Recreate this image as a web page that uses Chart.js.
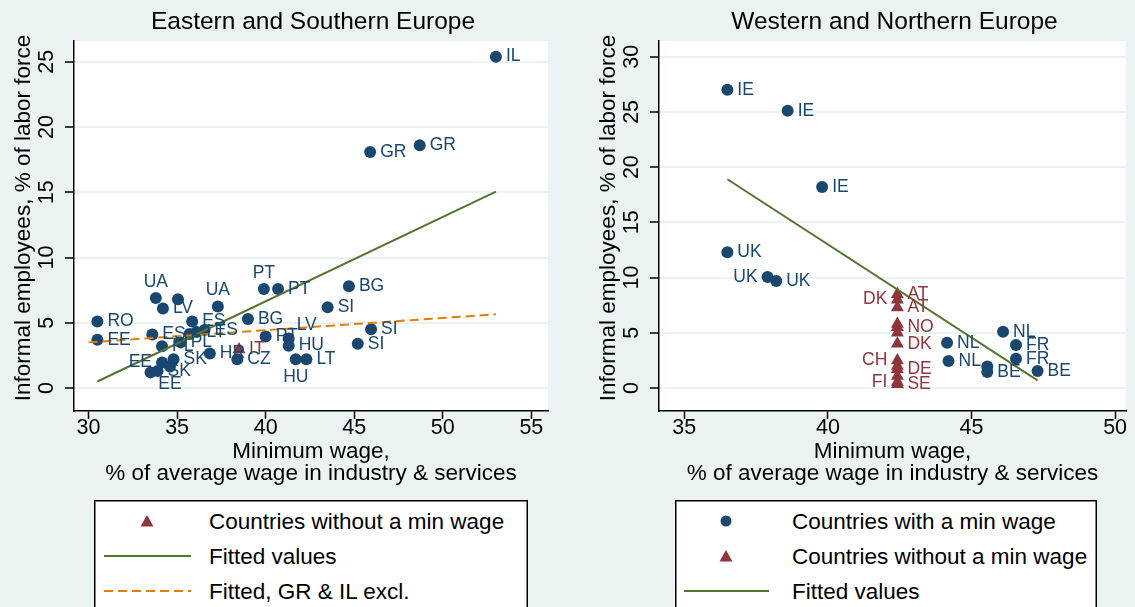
<!DOCTYPE html>
<html>
<head>
<meta charset="utf-8">
<script src="https://cdn.jsdelivr.net/npm/chart.js@4.4.0/dist/chart.umd.min.js"></script>
<style>
  body { margin: 0; background: #eaf2f3; }
  #wrap { position: relative; width: 1135px; height: 607px; overflow: hidden; background: #eaf2f3; }
  #wrap canvas { position: absolute; top: 0; }
  #eastChart { left: 0; }
  #westChart { left: 567px; }
  .legend { position: absolute; top: 500px; }
</style>
</head>
<body>
<div id="wrap">
  <canvas id="eastChart" width="567" height="500"></canvas>
  <canvas id="westChart" width="568" height="500"></canvas>
  <svg class="legend" id="eastLegend" style="left:94px" width="434" height="110"></svg>
  <svg class="legend" id="westLegend" style="left:675px" width="422" height="110"></svg>
</div>
<script>
// --- Data: Eastern and Southern Europe ---
const eastMinX = [53.0, 48.7, 45.9, 44.7, 39.9, 40.7, 43.5, 45.95, 45.2, 39.0, 40.0, 41.3, 41.3, 41.7, 42.3,
                  30.5, 30.5, 33.8, 35.05, 34.2, 37.3, 35.85, 33.6, 35.7, 36.1, 36.55, 35.2, 34.15, 36.85, 38.4,
                  34.15, 34.8, 33.5, 33.9, 34.6];
const eastMinY = [25.4, 18.6, 18.1, 7.8, 7.6, 7.6, 6.2, 4.5, 3.4, 5.3, 3.95, 3.8, 3.25, 2.2, 2.2,
                  5.1, 3.7, 6.9, 6.8, 6.1, 6.25, 5.1, 4.1, 4.15, 4.3, 4.45, 3.5, 3.2, 2.65, 2.2,
                  1.95, 2.2, 1.2, 1.3, 1.65];
const eastMinLabel = ['IL', 'GR', 'GR', 'BG', 'PT', 'PT', 'SI', 'SI', 'SI', 'BG', 'PT', 'LV', 'HU', 'HU', 'LT',
                      'RO', 'EE', 'UA', '', 'LV', 'UA', 'ES', 'ES', '', 'LT', 'ES', 'PL', 'PL', 'HR', 'CZ',
                      'EE', 'SK', '', 'SK', 'EE'];
// clock position of each marker label (Stata mlabvpos)
const eastMinPos = [3, 3, 3, 3, 12, 3, 3, 3, 3, 3, 3, 1, 3, 6, 3,
                    3, 3, 12, 3, 3, 12, 3, 3, 3, 3, 3, 3, 3, 3, 3,
                    9, 3, 3, 3, 6];
const eastNoMinX = [38.5];
const eastNoMinY = [2.95];
const eastNoMinLabel = ['IT'];
const eastNoMinPos = [3];
const eastFitX = [30.5, 53.0];
const eastFitY = [0.5, 15.05];
const eastFitExclX = [30.0, 53.0];
const eastFitExclY = [3.5, 5.65];
const eastXTicks = [30, 35, 40, 45, 50, 55];
const eastYTicks = [0, 5, 10, 15, 20, 25];

// --- Data: Western and Northern Europe ---
const westMinX = [36.5, 38.6, 39.8, 36.5, 37.9, 38.2, 46.1, 44.15, 44.2, 45.55, 45.55, 46.55, 46.55, 47.3];
const westMinY = [27.0, 25.1, 18.2, 12.3, 10.05, 9.7, 5.1, 4.1, 2.45, 1.95, 1.45, 3.9, 2.65, 1.55];
const westMinLabel = ['IE', 'IE', 'IE', 'UK', 'UK', 'UK', 'NL', 'NL', 'NL', '', 'BE', 'FR', 'FR', 'BE'];
const westMinPos = [3, 3, 3, 3, 9, 3, 3, 3, 3, 3, 3, 3, 3, 3];
const westNoMinX = [42.42, 42.42, 42.42, 42.42, 42.42, 42.42, 42.42, 42.42, 42.42, 42.42, 42.42, 42.42, 42.42];
const westNoMinY = [8.5, 8.0, 7.3, 5.8, 5.5, 5.0, 4.0, 2.5, 2.0, 1.7, 1.1, 0.55, 0.35];
const westNoMinLabel = ['AT', 'DK', 'AT', '', 'NO', '', 'DK', 'CH', '', 'DE', '', 'FI', 'SE'];
const westNoMinPos = [3, 9, 3, 3, 3, 3, 3, 9, 3, 3, 3, 9, 3];
const westFitX = [36.5, 47.3];
const westFitY = [18.9, 0.7];
const westXTicks = [35, 40, 45, 50];
const westYTicks = [0, 5, 10, 15, 20, 25, 30];

const xTitle = ['Minimum wage,', '% of average wage in industry & services'];
const yTitle = 'Informal employees, % of labor force';

// --- Styles ---
const FONT = '"Liberation Sans", Arial, sans-serif';
const BLUE = '#1a476f';
const RED = '#90353b';
const GREEN = '#55752f';
const ORANGE = '#e37e00';
const PANEL = '#eaf2f3';

const toPoints = (xs, ys) => xs.map((x, i) => ({ x: x, y: ys[i] }));

// white plot region, titles, rotated y tick labels
const stataDecor = {
    id: 'stataDecor',
    beforeDraw(chart) {
        const { ctx, chartArea: a } = chart;
        ctx.save();
        ctx.fillStyle = '#ffffff';
        ctx.fillRect(a.left, a.top, a.right - a.left, a.bottom - a.top);
        ctx.restore();
    },
    afterDraw(chart, args, opts) {
        const { ctx, chartArea: a, scales } = chart;
        const cx = (a.left + a.right) / 2;
        ctx.save();
        ctx.fillStyle = '#000';
        ctx.textAlign = 'center';
        ctx.textBaseline = 'middle';
        ctx.font = '24.5px ' + FONT;
        ctx.fillText(opts.title, cx + 2, 22);
        ctx.font = '22.5px ' + FONT;
        xTitle.forEach((t, i) => ctx.fillText(t, cx, 452 + i * 22));
        ctx.save();
        ctx.translate(a.left - 50, 218);
        ctx.rotate(-Math.PI / 2);
        ctx.fillText(yTitle, 0, 0);
        ctx.restore();
        ctx.font = '21.5px ' + FONT;
        scales.y.ticks.forEach(t => {
            const py = scales.y.getPixelForValue(t.value);
            ctx.save();
            ctx.translate(a.left - 27, py);
            ctx.rotate(-Math.PI / 2);
            ctx.fillText(String(t.value), 0, 0);
            ctx.restore();
        });
        ctx.restore();
    }
};

// marker labels at clock positions
const markerLabels = {
    id: 'markerLabels',
    afterDatasetsDraw(chart) {
        const ctx = chart.ctx;
        ctx.save();
        ctx.font = '17.5px ' + FONT;
        ctx.textBaseline = 'middle';
        chart.data.datasets.forEach((ds, di) => {
            if (!ds.mlabels) return;
            const meta = chart.getDatasetMeta(di);
            ctx.fillStyle = ds.backgroundColor;
            meta.data.forEach((el, i) => {
                const txt = ds.mlabels[i];
                if (!txt) return;
                const pos = ds.mlabpos[i];
                let x = el.x, y = el.y;
                if (pos === 3) { ctx.textAlign = 'left'; x += 10; }
                else if (pos === 9) { ctx.textAlign = 'right'; x -= 10; }
                else if (pos === 12) { ctx.textAlign = 'center'; y -= 16; }
                else if (pos === 6) { ctx.textAlign = 'center'; y += 18; }
                else if (pos === 1) { ctx.textAlign = 'left'; x += 8; y -= 13; }
                ctx.fillText(txt, x, y);
            });
        });
        ctx.restore();
    }
};

function makePanel(canvasId, cfg) {
    const datasets = [];
    cfg.lines.forEach(l => datasets.push({
        type: 'line', data: toPoints(l.x, l.y), borderColor: l.color, borderWidth: 2,
        borderDash: l.dash || [], pointRadius: 0, fill: false, order: 0
    }));
    cfg.markers.forEach(m => datasets.push({
        type: 'scatter', data: toPoints(m.x, m.y), backgroundColor: m.color, borderWidth: 0,
        pointStyle: m.style, pointRadius: m.radius, mlabels: m.labels, mlabpos: m.pos, order: 1
    }));
    return new Chart(document.getElementById(canvasId), {
        type: 'scatter',
        data: { datasets: datasets },
        options: {
            responsive: false,
            animation: false,
            devicePixelRatio: 1,
            layout: { padding: { left: 0, right: cfg.padRight, top: 41, bottom: 0 } },
            plugins: {
                legend: { display: false },
                tooltip: { enabled: false },
                stataDecor: { title: cfg.title }
            },
            scales: {
                x: {
                    type: 'linear', position: 'bottom', min: cfg.xMin, max: cfg.xMax,
                    afterBuildTicks: s => { s.ticks = cfg.xTicks.map(v => ({ value: v })); },
                    afterFit: s => { s.height = 89; },
                    ticks: { font: { size: 21.5, family: FONT }, color: '#000', padding: -4, maxRotation: 0, autoSkip: false },
                    grid: { display: true, drawOnChartArea: false, tickColor: '#000', tickLength: 8, tickWidth: 1.5 },
                    border: { color: '#000', width: 1.5 }
                },
                y: {
                    type: 'linear', position: 'left', min: cfg.yMin, max: cfg.yMax,
                    afterBuildTicks: s => { s.ticks = cfg.yTicks.map(v => ({ value: v })); },
                    afterFit: s => { s.width = cfg.yWidth; },
                    ticks: { display: false },
                    grid: { color: PANEL, lineWidth: 2, tickColor: '#000', tickLength: 9, tickWidth: 1.5 },
                    border: { color: '#000', width: 1.5 }
                }
            }
        },
        plugins: [stataDecor, markerLabels]
    });
}

makePanel('eastChart', {
    title: 'Eastern and Southern Europe',
    xMin: 29.18, xMax: 55.94, yMin: -1.76, yMax: 26.6,
    xTicks: eastXTicks, yTicks: eastYTicks, yWidth: 74, padRight: 19,
    lines: [
        { x: eastFitX, y: eastFitY, color: GREEN },
        { x: eastFitExclX, y: eastFitExclY, color: ORANGE, dash: [9, 5] }
    ],
    markers: [
        { x: eastNoMinX, y: eastNoMinY, labels: eastNoMinLabel, pos: eastNoMinPos, color: RED, style: 'triangle', radius: 7.5 },
        { x: eastMinX, y: eastMinY, labels: eastMinLabel, pos: eastMinPos, color: BLUE, style: 'circle', radius: 6 }
    ]
});

makePanel('westChart', {
    title: 'Western and Northern Europe',
    xMin: 34.12, xMax: 50.38, yMin: -2.08, yMax: 31.42,
    xTicks: westXTicks, yTicks: westYTicks, yWidth: 92, padRight: 9,
    lines: [
        { x: westFitX, y: westFitY, color: GREEN }
    ],
    markers: [
        { x: westNoMinX, y: westNoMinY, labels: westNoMinLabel, pos: westNoMinPos, color: RED, style: 'triangle', radius: 7.5 },
        { x: westMinX, y: westMinY, labels: westMinLabel, pos: westMinPos, color: BLUE, style: 'circle', radius: 6 }
    ]
});

// --- Legends (boxed, one key per row) ---
const SVGNS = 'http://www.w3.org/2000/svg';
function svgEl(parent, name, attrs, text) {
    const el = document.createElementNS(SVGNS, name);
    Object.keys(attrs).forEach(k => el.setAttribute(k, attrs[k]));
    if (text) el.textContent = text;
    parent.appendChild(el);
    return el;
}
function drawLegend(svgId, items, symX, lineX0, lineX1, textX) {
    const svg = document.getElementById(svgId);
    const w = +svg.getAttribute('width');
    svgEl(svg, 'rect', { x: 0.75, y: 0.75, width: w - 1.5, height: 140, fill: '#fff', stroke: '#000', 'stroke-width': 1.5 });
    items.forEach((it, i) => {
        const cy = 21 + i * 35;
        if (it.kind === 'circle') svgEl(svg, 'circle', { cx: symX, cy: cy, r: 5.5, fill: BLUE });
        if (it.kind === 'triangle') svgEl(svg, 'polygon', { points: `${symX - 6.5},${cy + 5.5} ${symX + 6.5},${cy + 5.5} ${symX},${cy - 6}`, fill: RED });
        if (it.kind === 'line') svgEl(svg, 'line', { x1: lineX0, x2: lineX1, y1: cy, y2: cy, stroke: it.color, 'stroke-width': 2, 'stroke-dasharray': it.dash || 'none' });
        svgEl(svg, 'text', { x: textX, y: cy, 'dominant-baseline': 'central', 'font-family': FONT, 'font-size': 22.5, fill: '#000' }, it.label);
    });
}
drawLegend('eastLegend', [
    { kind: 'triangle', label: 'Countries without a min wage' },
    { kind: 'line', color: GREEN, label: 'Fitted values' },
    { kind: 'line', color: ORANGE, dash: '9,5', label: 'Fitted, GR & IL excl.' }
], 53, 10, 97, 115);
drawLegend('westLegend', [
    { kind: 'circle', label: 'Countries with a min wage' },
    { kind: 'triangle', label: 'Countries without a min wage' },
    { kind: 'line', color: GREEN, label: 'Fitted values' }
], 51, 9, 94, 117);
</script>
</body>
</html>
